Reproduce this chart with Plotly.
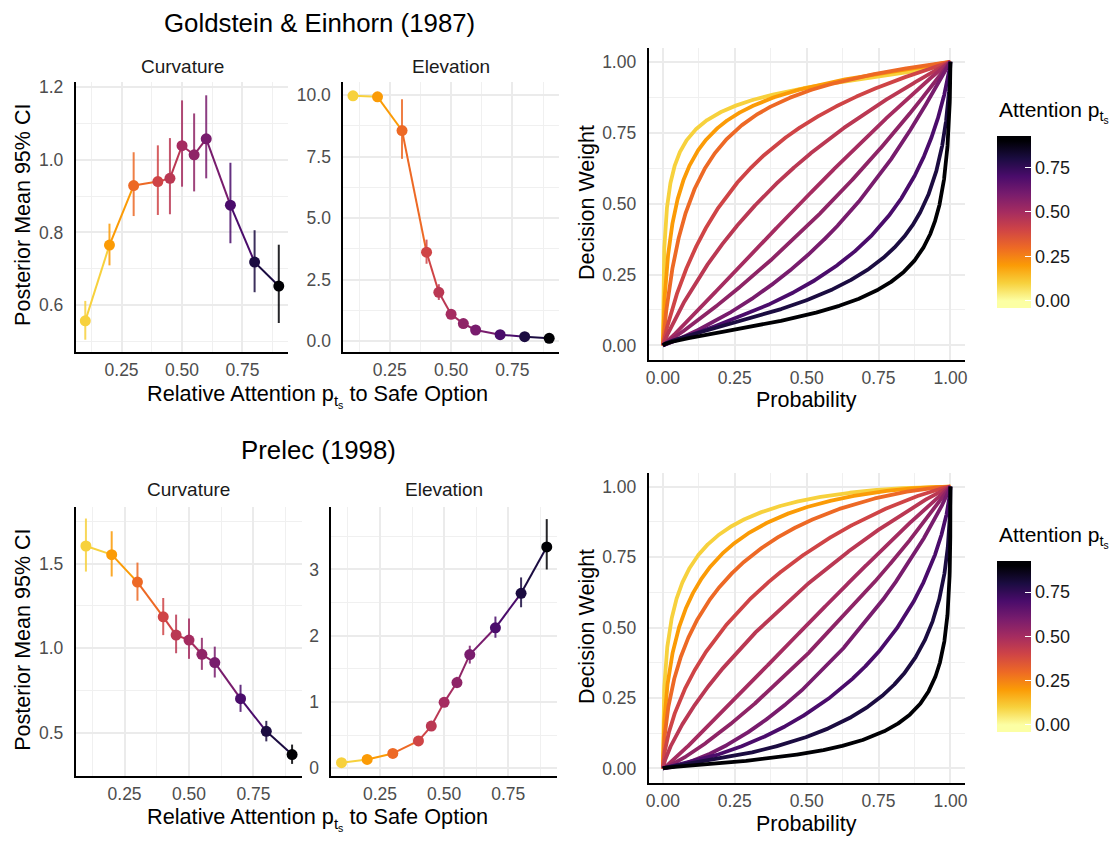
import numpy as np
import plotly.graph_objects as go

W, H = 1118, 841

# ---------------- data ----------------
attention = [0.1, 0.2, 0.3, 0.4, 0.45, 0.5, 0.55, 0.6, 0.7, 0.8, 0.9]

ge_curv_mean = [0.556, 0.765, 0.929, 0.940, 0.949, 1.039, 1.014, 1.058, 0.875, 0.718, 0.652]
ge_curv_lo = [0.504, 0.709, 0.845, 0.848, 0.850, 0.926, 0.913, 0.949, 0.770, 0.635, 0.550]
ge_curv_hi = [0.611, 0.824, 1.021, 1.040, 1.060, 1.164, 1.128, 1.178, 0.992, 0.806, 0.766]

ge_elev_mean = [9.97, 9.93, 8.56, 3.62, 1.99, 1.10, 0.72, 0.46, 0.27, 0.19, 0.12]
ge_elev_lo = [9.93, 9.85, 7.41, 3.15, 1.68, 0.92, 0.60, 0.38, 0.21, 0.14, 0.08]
ge_elev_hi = [10.0, 9.99, 9.83, 4.13, 2.32, 1.30, 0.85, 0.55, 0.34, 0.25, 0.16]

pr_curv_mean = [1.604, 1.553, 1.391, 1.186, 1.078, 1.049, 0.965, 0.916, 0.703, 0.510, 0.373]
pr_curv_lo = [1.453, 1.424, 1.281, 1.078, 0.971, 0.938, 0.873, 0.828, 0.625, 0.451, 0.318]
pr_curv_hi = [1.766, 1.691, 1.506, 1.297, 1.199, 1.176, 1.062, 1.010, 0.785, 0.572, 0.432]

pr_elev_mean = [0.085, 0.134, 0.224, 0.413, 0.637, 0.995, 1.294, 1.716, 2.12, 2.64, 3.34]
pr_elev_lo = [0.06, 0.10, 0.18, 0.36, 0.57, 0.93, 1.21, 1.58, 1.97, 2.43, 3.00]
pr_elev_hi = [0.11, 0.17, 0.27, 0.47, 0.71, 1.06, 1.38, 1.85, 2.29, 2.88, 3.76]

x_ticks = [0.25, 0.50, 0.75]
x_ticktext = ["0.25", "0.50", "0.75"]
prob_ticks = [0.0, 0.25, 0.5, 0.75, 1.0]
prob_ticktext = ["0.00", "0.25", "0.50", "0.75", "1.00"]
cbar_ticks = [0.0, 0.25, 0.5, 0.75]
cbar_ticktext = ["0.00", "0.25", "0.50", "0.75"]

# ---------------- colours (reversed inferno over [0, 0.9]) ----------------
INFERNO = ["#000004", "#1b0c41", "#4a0c6b", "#781c6d", "#a52c60",
           "#cf4446", "#ed6925", "#fb9b06", "#f7d13d", "#fcffa4"]
A_MAX = 0.9
CB_MIN, CB_MAX = -0.04, 0.927


def h2r(h):
    h = h.lstrip("#")
    return [int(h[i:i + 2], 16) for i in (0, 2, 4)]


def color_at(a):
    t = min(max(1 - a / A_MAX, 0.0), 1.0)
    pos = t * 9
    i = min(int(pos), 8)
    f = pos - i
    c0, c1 = h2r(INFERNO[i]), h2r(INFERNO[i + 1])
    c = [round(c0[k] + (c1[k] - c0[k]) * f) for k in range(3)]
    return "rgb(%d,%d,%d)" % tuple(c)


cs = [[0.0, INFERNO[9]]]
for k in range(9, -1, -1):
    a = A_MAX * (1 - k / 9)
    cs.append([(a - CB_MIN) / (CB_MAX - CB_MIN), INFERNO[k]])
cs.append([1.0, INFERNO[0]])

FONT = "Liberation Sans, Arial, Helvetica, sans-serif"

fig = go.Figure()


def px_x(x):
    return x / W


def px_y(y):
    return 1 - y / H


panels = {
    1: dict(xp=(73, 287), yp=(78, 350), xr=[0.06, 0.94], yr=[0.471, 1.214],
            yt=[0.6, 0.8, 1.0, 1.2], ytt=["0.6", "0.8", "1.0", "1.2"], ym=[0.5, 0.7, 0.9, 1.1]),
    2: dict(xp=(342, 559), yp=(78, 350), xr=[0.06, 0.94], yr=[-0.42, 10.52],
            yt=[0, 2.5, 5, 7.5, 10], ytt=["0.0", "2.5", "5.0", "7.5", "10.0"], ym=[1.25, 3.75, 6.25, 8.75]),
    3: dict(xp=(649, 967), yp=(43, 358), xr=[-0.05, 1.05], yr=[-0.05, 1.05],
            yt=prob_ticks, ytt=prob_ticktext, ym=[0.125, 0.375, 0.625, 0.875]),
    4: dict(xp=(73, 301), yp=(507, 778), xr=[0.06, 0.94], yr=[0.249, 1.833],
            yt=[0.5, 1.0, 1.5], ytt=["0.5", "1.0", "1.5"], ym=[0.25, 0.75, 1.25, 1.75]),
    5: dict(xp=(330, 557), yp=(507, 778), xr=[0.06, 0.94], yr=[-0.11, 3.94],
            yt=[0, 1, 2, 3], ytt=["0", "1", "2", "3"], ym=[0.5, 1.5, 2.5, 3.5]),
    6: dict(xp=(649, 967), yp=(472, 785), xr=[-0.05, 1.05], yr=[-0.05, 1.05],
            yt=prob_ticks, ytt=prob_ticktext, ym=[0.125, 0.375, 0.625, 0.875]),
}

layout_axes = {}
for n, p in panels.items():
    sfx = "" if n == 1 else str(n)
    is_prob = n in (3, 6)
    xt = prob_ticks if is_prob else x_ticks
    xtt = prob_ticktext if is_prob else x_ticktext
    xm = [0.125, 0.375, 0.625, 0.875]
    common = dict(showgrid=True, gridcolor="#EBEBEB", gridwidth=1.5, zeroline=False,
                  showline=True, linecolor="black", linewidth=1.6,
                  tickfont=dict(family=FONT, size=17.5, color="#4D4D4D"), fixedrange=True)
    layout_axes["xaxis" + sfx] = dict(
        domain=[px_x(p["xp"][0]), px_x(p["xp"][1])], range=p["xr"], anchor="y" + sfx,
        tickmode="array", tickvals=xt, ticktext=xtt, ticks="", ticklabelstandoff=2,
        minor=dict(tickmode="array", tickvals=xm, showgrid=True, gridcolor="#F0F0F0", gridwidth=0.9),
        **common)
    layout_axes["yaxis" + sfx] = dict(
        domain=[px_y(p["yp"][1]), px_y(p["yp"][0])], range=p["yr"], anchor="x" + sfx,
        tickmode="array", tickvals=p["yt"], ticktext=p["ytt"], ticks="", ticklabelstandoff=7,
        minor=dict(tickmode="array", tickvals=p["ym"], showgrid=True, gridcolor="#F0F0F0", gridwidth=0.9),
        **common)


def add_estimates(n, mean, lo, hi, cbar_y=None):
    sfx = "" if n == 1 else str(n)
    xa, ya = "x" + sfx, "y" + sfx
    for i in range(len(attention) - 1):
        fig.add_trace(go.Scatter(x=[attention[i], attention[i + 1]], y=[mean[i], mean[i + 1]],
                                 mode="lines", line=dict(color=color_at(attention[i]), width=2),
                                 xaxis=xa, yaxis=ya, hoverinfo="skip", showlegend=False))
    for i in range(len(attention)):
        fig.add_trace(go.Scatter(x=[attention[i], attention[i]], y=[lo[i], hi[i]],
                                 mode="lines", line=dict(color=color_at(attention[i]), width=2),
                                 opacity=0.85, xaxis=xa, yaxis=ya, hoverinfo="skip", showlegend=False))
    marker = dict(size=11, color=attention, colorscale=cs, cmin=CB_MIN, cmax=CB_MAX,
                  line=dict(width=0))
    if cbar_y is not None:
        y0, y1 = cbar_y
        marker.update(showscale=True, colorbar=dict(
            x=px_x(999), xanchor="left", xpad=0, ypad=0,
            y=px_y((y0 + y1) / 2), yanchor="middle",
            len=(y1 - y0), lenmode="pixels", thickness=34, thicknessmode="pixels",
            outlinewidth=0, tickmode="array", tickvals=cbar_ticks, ticktext=cbar_ticktext,
            ticks="inside", ticklen=6, tickcolor="white", tickwidth=1,
            tickfont=dict(family=FONT, size=18, color="#1A1A1A")))
    fig.add_trace(go.Scatter(x=attention, y=mean, mode="markers", marker=marker,
                             xaxis=xa, yaxis=ya, showlegend=False))


add_estimates(1, ge_curv_mean, ge_curv_lo, ge_curv_hi, cbar_y=(133, 305))
add_estimates(2, ge_elev_mean, ge_elev_lo, ge_elev_hi)
add_estimates(4, pr_curv_mean, pr_curv_lo, pr_curv_hi, cbar_y=(562, 733))
add_estimates(5, pr_elev_mean, pr_elev_lo, pr_elev_hi)

# weighting functions implied by the posterior means
prob = np.linspace(0, 1, 2001)
with np.errstate(divide="ignore", invalid="ignore", over="ignore"):
    for i, a in enumerate(attention):
        g, d = ge_curv_mean[i], ge_elev_mean[i]
        w_ge = d * prob ** g / (d * prob ** g + (1 - prob) ** g)
        fig.add_trace(go.Scatter(x=prob, y=w_ge, mode="lines",
                                 line=dict(color=color_at(a), width=3.8),
                                 xaxis="x3", yaxis="y3", hoverinfo="skip", showlegend=False))
        g, d = pr_curv_mean[i], pr_elev_mean[i]
        w_pr = np.exp(-d * (-np.log(prob)) ** g)
        w_pr[0] = 0.0
        w_pr[-1] = 1.0
        fig.add_trace(go.Scatter(x=prob, y=w_pr, mode="lines",
                                 line=dict(color=color_at(a), width=3.8),
                                 xaxis="x6", yaxis="y6", hoverinfo="skip", showlegend=False))

PTS = "p<sub>t<sub>s</sub></sub>"
ann = []


def text(x, y, s, size, color="black", angle=0, xanchor="center"):
    ann.append(dict(x=px_x(x), y=px_y(y), xref="paper", yref="paper", text=s, showarrow=False,
                    xanchor=xanchor, yanchor="middle", textangle=angle,
                    font=dict(family=FONT, size=size, color=color)))


text(318, 18, "Goldstein &amp; Einhorn (1987)", 25.8)
text(317, 449, "Prelec (1998)", 25.8)
text(180, 62, "Curvature", 19, "#1A1A1A")
text(450, 62, "Elevation", 19, "#1A1A1A")
text(187, 489, "Curvature", 19, "#1A1A1A")
text(443, 489, "Elevation", 19, "#1A1A1A")
text(316, 395, "Relative Attention " + PTS + " to Safe Option", 21.7)
text(316, 822, "Relative Attention " + PTS + " to Safe Option", 21.7)
text(20, 212, "Posterior Mean 95% CI", 21.5, angle=-90)
text(20, 641, "Posterior Mean 95% CI", 21.5, angle=-90)
text(587, 199, "Decision Weight", 21.5, angle=-90)
text(587, 627, "Decision Weight", 21.5, angle=-90)
text(808, 399, "Probability", 21.5)
text(808, 827, "Probability", 21.5)
text(999, 108, "Attention " + PTS, 21, xanchor="left")
text(999, 537, "Attention " + PTS, 21, xanchor="left")

fig.update_layout(
    width=W, height=H, margin=dict(l=0, r=0, t=0, b=0),
    paper_bgcolor="white", plot_bgcolor="white", showlegend=False,
    annotations=ann, font=dict(family=FONT), **layout_axes)

fig.write_html("out.html")
